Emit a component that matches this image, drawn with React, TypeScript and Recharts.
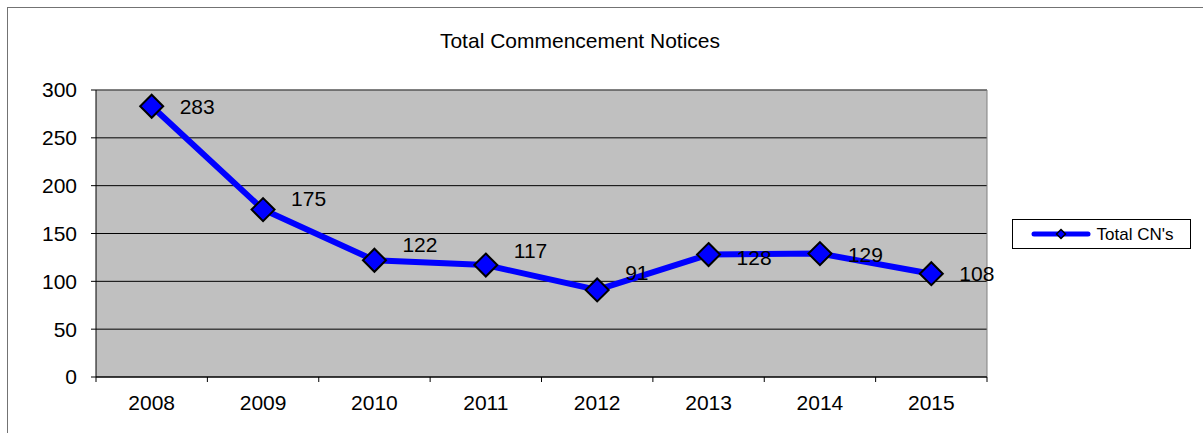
import React from 'react';
import { LineChart, Line, XAxis, YAxis, CartesianGrid, LabelList, ReferenceLine } from 'recharts';

const years = ['2008', '2009', '2010', '2011', '2012', '2013', '2014', '2015'];
const totalCNs = [283, 175, 122, 117, 91, 128, 129, 108];
const yTicks = [0, 50, 100, 150, 200, 250, 300];
const seriesName = "Total CN's";
const chartTitle = 'Total Commencement Notices';

// vertical nudge of each data label relative to its point (label styling only)
const labelDy = [0, -11, -16, -15, -17, 3, 1, 0];

const data = years.map((y, i) => ({ pos: i + 0.5, year: y, value: totalCNs[i] }));
const xTicks: number[] = [];
for (let i = 0; i <= years.length; i++) {
  xTicks.push(i);
  if (i < years.length) xTicks.push(i + 0.5);
}

const FONT = '"Liberation Sans", Arial, sans-serif';

const XTick = (props: any) => {
  const { x, y, payload } = props;
  const v = payload.value;
  if (Number.isInteger(v)) {
    return <line x1={x} x2={x} y1={y} y2={y + 5} stroke="#000" strokeWidth={1} />;
  }
  return (
    <text x={x} y={y + 33} textAnchor="middle" fontSize={21} fontFamily={FONT} fill="#000">
      {years[Math.floor(v)]}
    </text>
  );
};

const Diamond = (props: any) => {
  const { cx, cy, index } = props;
  const r = 11.5;
  return (
    <polygon
      key={`d-${index}`}
      points={`${cx},${cy - r} ${cx + r},${cy} ${cx},${cy + r} ${cx - r},${cy}`}
      fill="#0000FF"
      stroke="#000"
      strokeWidth={2}
    />
  );
};

const PointLabel = (props: any) => {
  const { x, y, value, index } = props;
  const dy = labelDy[index] ?? 0;
  return (
    <text x={x + 28} y={y + dy} dominantBaseline="central" fontSize={21} fontFamily={FONT} fill="#000">
      {value}
    </text>
  );
};

export default function App() {
  return (
    <div style={{ position: 'absolute', left: 0, top: 0, width: 1203, height: 433, overflow: 'hidden', background: '#fff' }}>
      <LineChart width={1203} height={433} data={data} margin={{ top: 90, right: 216, bottom: 0, left: 0 }}>
        <CartesianGrid vertical={false} fill="#C0C0C0" stroke="#000" strokeOpacity={1} />
        <ReferenceLine y={300} stroke="#808080" strokeWidth={1} />
        <ReferenceLine x={8} stroke="#808080" strokeWidth={1} />
        <XAxis
          dataKey="pos"
          type="number"
          domain={[0, 8]}
          ticks={xTicks}
          interval={0}
          height={56}
          tickSize={0}
          tickMargin={0}
          tickLine={false}
          axisLine={{ stroke: '#000' }}
          tick={<XTick />}
          allowDataOverflow
        />
        <YAxis
          type="number"
          domain={[0, 300]}
          ticks={yTicks}
          interval={0}
          width={96}
          tickSize={5}
          tickMargin={14}
          axisLine={{ stroke: '#000' }}
          tickLine={{ stroke: '#000' }}
          tick={{ fontSize: 21, fontFamily: FONT, fill: '#000' }}
        />
        <Line
          dataKey="value"
          name={seriesName}
          stroke="#0000FF"
          strokeWidth={6}
          dot={<Diamond />}
          activeDot={false}
          isAnimationActive={false}
        >
          <LabelList dataKey="value" content={<PointLabel />} />
        </Line>
      </LineChart>
      <svg
        width={1203}
        height={433}
        style={{ position: 'absolute', left: 0, top: 0, pointerEvents: 'none' }}
      >
        <rect x={7.5} y={7.5} width={1300} height={500} fill="none" stroke="#737373" strokeWidth={1} />
        <text x={580} y={47.7} textAnchor="middle" fontSize={21} fontFamily={FONT} fill="#000">
          {chartTitle}
        </text>
        <rect x={1012.5} y={219.5} width={178} height={29} fill="#fff" stroke="#000" strokeWidth={1} />
        <line x1={1034} x2={1088} y1={234} y2={234} stroke="#0000FF" strokeWidth={5} strokeLinecap="round" />
        <polygon points="1061,229.5 1065.5,234 1061,238.5 1056.5,234" fill="#0000FF" stroke="#000" strokeWidth={1.5} />
        <text x={1096.5} y={239.5} fontSize={17} fontFamily={FONT} fill="#000">
          {seriesName}
        </text>
      </svg>
    </div>
  );
}
